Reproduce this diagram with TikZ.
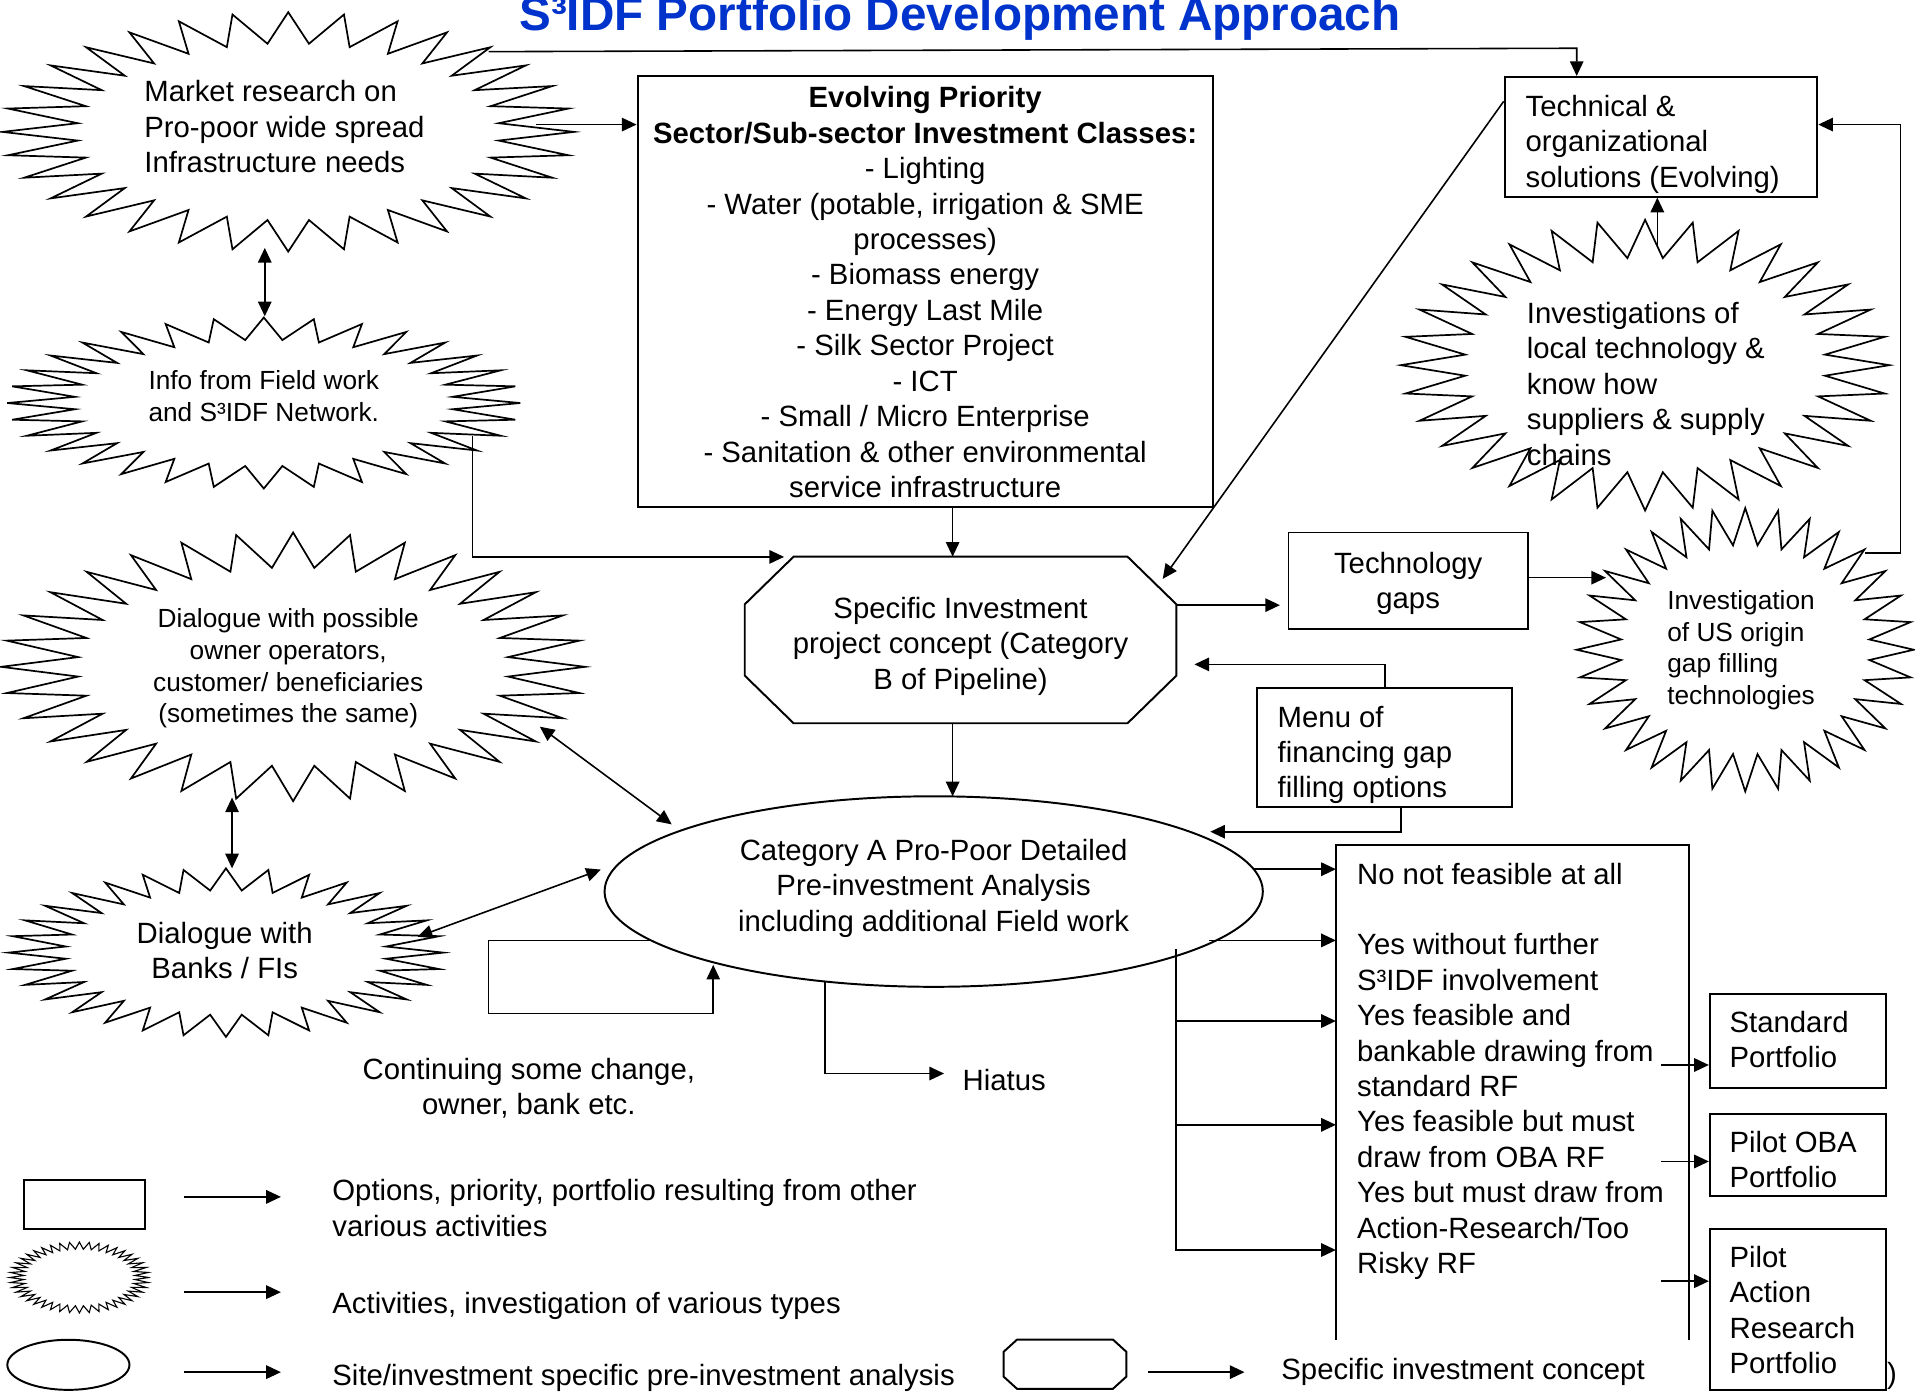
\documentclass[tikz,border=0pt]{standalone}
\usepackage{fontspec}
\setmainfont{Liberation Sans}
\usetikzlibrary{arrows.meta,shapes.geometric,calc}
\definecolor{titleblue}{RGB}{0,51,204}
% starburst: #1 name, #2 cx, #3 cy, #4 a, #5 b, #6 samples (2n+1), #7 depth
\newcommand\burstshape[7]{%
  \node[ellipse, inner sep=0pt, minimum width={2*#4}, minimum height={2*#5}] (#1) at (#2,#3) {};
  \draw[burstline] plot[domain=0:360, samples=#6, variable=\t]
    ({#2+(1-#7*mod(round(\t/(360/(#6-1))),2))*#4*cos(\t)},
     {#3+(1-#7*mod(round(\t/(360/(#6-1))),2))*#5*sin(\t)}) -- cycle;
}
% octagon outline around a node: #1 node, #2 x chamfer, #3 y chamfer
\newcommand\octpath[3]{%
  \draw[boxline] ($(#1.north west)+(#2,0)$) -- ($(#1.north east)+(-#2,0)$)
   -- ($(#1.north east)+(0,#3)$) -- ($(#1.south east)+(0,-#3)$)
   -- ($(#1.south east)+(-#2,0)$) -- ($(#1.south west)+(#2,0)$)
   -- ($(#1.south west)+(0,-#3)$) -- ($(#1.north west)+(0,#3)$) -- cycle;
}
\begin{document}
\begin{tikzpicture}[x=1pt,y=-1pt,
  boxline/.style={line width=1.6pt},
  burstline/.style={line width=1.4pt},
  box/.style={draw, boxline, inner sep=0pt},
  ln/.style={line width=1.3pt},
  arr/.style={ln, -{Triangle[length=12pt,width=11pt]}},
  dbl/.style={ln, {Triangle[length=12pt,width=11pt]}-{Triangle[length=12pt,width=11pt]}},
  txt/.style={font=\fontsize{24}{29}\selectfont, inner sep=0pt, yshift=-4pt, execute at begin node=\strut, execute at end node=\strut},
  stxt/.style={font=\fontsize{21.5}{26}\selectfont, inner sep=0pt, yshift=-4pt, execute at begin node=\strut, execute at end node=\strut},
]
\useasboundingbox (0,0) rectangle (1568,1142);
\fill[white] (0,0) rectangle (1568,1142);

% title
\node[font=\fontsize{39}{45}\selectfont\bfseries, text=titleblue, anchor=base, inner sep=0pt] (title) at (786,25) {S³IDF Portfolio Development Approach};

% starbursts
\burstshape{mrb}{236}{108}{234}{98}{65}{0.26}
\burstshape{infob}{216}{330}{210}{70}{65}{0.26}
\burstshape{dialb}{240}{546}{239}{110}{65}{0.26}
\burstshape{banksb}{185}{780}{178}{69}{65}{0.26}
\burstshape{locb}{1347}{299}{200}{119}{65}{0.26}
\burstshape{usb}{1429}{532}{138}{116}{65}{0.26}
\begin{scope}[burstline/.style={line width=0.9pt}]
\burstshape{legb}{65}{1046}{57}{29}{89}{0.2}
\end{scope}

% burst texts
\node[txt, align=left, anchor=west] (mrt) at (118,104) {Market research on\\Pro-poor wide spread\\Infrastructure needs};
\node[stxt, align=center] (infot) at (216,324) {Info from Field work\\and S³IDF Network.};
\node[stxt, align=center] (dialt) at (236,545) {Dialogue with possible\\owner operators,\\customer/ beneficiaries\\(sometimes the same)};
\node[txt, align=center] (bankst) at (184,778.5) {Dialogue with\\Banks / FIs};
\node[txt, align=left, anchor=west] (loct) at (1250,314.5) {Investigations of\\local technology \&\\know how\\suppliers \& supply\\chains};
\node[stxt, align=left, anchor=west] (ust) at (1365,530) {Investigation\\of US origin\\gap filling\\technologies};

% boxes
\node[box, minimum width=471, minimum height=353] (evolve) at (757.5,238.5) {};
\node[txt, align=center] (evolvet) at (757.5,239.5) {\textbf{Evolving Priority}\\\textbf{Sector/Sub-sector Investment Classes:}\\- Lighting\\- Water (potable, irrigation \& SME\\processes)\\- Biomass energy\\- Energy Last Mile\\- Silk Sector Project\\- ICT\\- Small / Micro Enterprise\\- Sanitation \& other environmental\\service infrastructure};

\node[box, minimum width=256, minimum height=98] (techbox) at (1360,112) {};
\node[txt, align=left, anchor=west] (techt) at (1249,116) {Technical \&\\organizational\\solutions (Evolving)};

\node[box, minimum width=196, minimum height=79] (techgaps) at (1153,475.5) {};
\node[txt, align=center] (techgapst) at (1153,475.5) {Technology\\gaps};

\node[box, minimum width=209, minimum height=98] (menu) at (1133.5,612) {};
\node[txt, align=left, anchor=west] (menut) at (1046,616) {Menu of\\financing gap\\filling options};

\node[inner sep=0pt, minimum width=353, minimum height=136] (oct) at (786.5,524) {};
\octpath{oct}{40}{39}
\node[txt, align=center] (octt) at (786.5,527) {Specific Investment\\project concept (Category\\B of Pipeline)};

\node[draw, ellipse, boxline, inner sep=0pt, minimum width=539, minimum height=156] (ell) at (764.5,730) {};
\node[txt, align=center] (ellt) at (764.5,725) {Category A Pro-Poor Detailed\\Pre-investment Analysis\\including additional Field work};

% results (open box)
\node[inner sep=0pt, minimum width=289, minimum height=405] (res) at (1238.5,894.5) {};
\draw[boxline] (res.south west) -- (res.north west) -- (res.north east) -- (res.south east);
\node[txt, align=left, anchor=west] (rest) at (1111,875) {No not feasible at all\\[29pt]Yes without further\\S³IDF involvement\\Yes feasible and\\bankable drawing from\\standard RF\\Yes feasible but must\\draw from OBA RF\\Yes but must draw from\\Action-Research/Too\\Risky RF};

\node[box, minimum width=144, minimum height=77] (std) at (1472,852.5) {};
\node[txt, align=left, anchor=west] (stdt) at (1416,851.5) {Standard\\Portfolio};
\node[box, minimum width=144, minimum height=67] (oba) at (1472,945.5) {};
\node[txt, align=left, anchor=west] (obat) at (1416,949.5) {Pilot OBA\\Portfolio};
\node[box, minimum width=144, minimum height=132] (par) at (1472,1072) {};
\node[txt, align=left, anchor=west] (part) at (1416,1073) {Pilot\\Action\\Research\\Portfolio};
\node[txt, anchor=west] (paren) at (1545,1123) {)};

% free texts
\node[txt, align=center] (cont) at (433,890) {Continuing some change,\\owner, bank etc.};
\node[txt, anchor=west] (hiatus) at (788,883.5) {Hiatus};

% connectors
\draw[arr] (400,42.3) -- (1291,39.5) -- (1291,0 |- techbox.north);
\draw[arr] (439,102) -- (evolve.west |- 0,102);
\draw[dbl] (216.8,203) -- (216.8,259);
\draw[arr] (387,357) -- (387,456) -- (642,456);
\draw[arr] (780,0 |- evolve.south) -- (780,0 |- oct.north);
\draw[arr] (techbox.west |- 0,83) -- (952,474);
\draw[arr] (oct.east |- 0,495.5) -- (1048,495.5);
\draw[arr] (techgaps.east |- 0,473) -- (1315,473);
\draw[arr] (1527,453) -- (1556,453) -- (1556,102) -- (techbox.east |- 0,102);
\draw[arr] (1357,202) -- (1357,0 |- techbox.south);
\draw[arr] (1134,0 |- menu.north) -- (1134,544) -- (978,544);
\draw[arr] (1147,0 |- menu.south) -- (1147,681) -- (991,681);
\draw[arr] (780,0 |- oct.south) -- (780,652);
\draw[dbl] (442,595) -- (550,675);
\draw[dbl] (190,653) -- (190,711);
\draw[dbl] (342,767) -- (492,712);
\draw[arr] (532,770) -- (400,770) -- (400,830) -- (584,830) -- (584,790);
\draw[arr] (675.4,804) -- (675.4,879) -- (773,879);
\draw[arr] (1027,711.7) -- (res.west |- 0,711.7);
\draw[arr] (990,770) -- (res.west |- 0,770);
\draw[ln] (963,777) -- (963,1024);
\draw[arr] (963,836) -- (res.west |- 0,836);
\draw[arr] (963,921) -- (res.west |- 0,921);
\draw[arr] (963,1023.5) -- (res.west |- 0,1023.5);
\draw[arr] (1360,872) -- (std.west |- 0,872);
\draw[arr] (1360,951) -- (oba.west |- 0,951);
\draw[arr] (1360,1049) -- (par.west |- 0,1049);

% legend
\node[box, minimum width=99, minimum height=40] (legrect) at (69.5,986) {};
\node[draw, ellipse, boxline, inner sep=0pt, minimum width=100, minimum height=41] (legell) at (56,1117.5) {};
\node[inner sep=0pt, minimum width=100, minimum height=40] (legoct) at (872,1117) {};
\octpath{legoct}{11}{10}
\draw[arr] (151,980) -- (230,980);
\draw[arr] (151,1058) -- (230,1058);
\draw[arr] (151,1123.5) -- (230,1123.5);
\draw[arr] (940,1123.5) -- (1019,1123.5);
\node[txt, align=left, anchor=west] (leg1) at (272,989.5) {Options, priority, portfolio resulting from other\\various activities};
\node[txt, anchor=west] (leg2) at (272,1066) {Activities, investigation of various types};
\node[txt, anchor=west] (leg3) at (272,1125) {Site/investment specific pre-investment analysis};
\node[txt, anchor=west] (leg4) at (1049,1120) {Specific investment concept};
\end{tikzpicture}
\end{document}
